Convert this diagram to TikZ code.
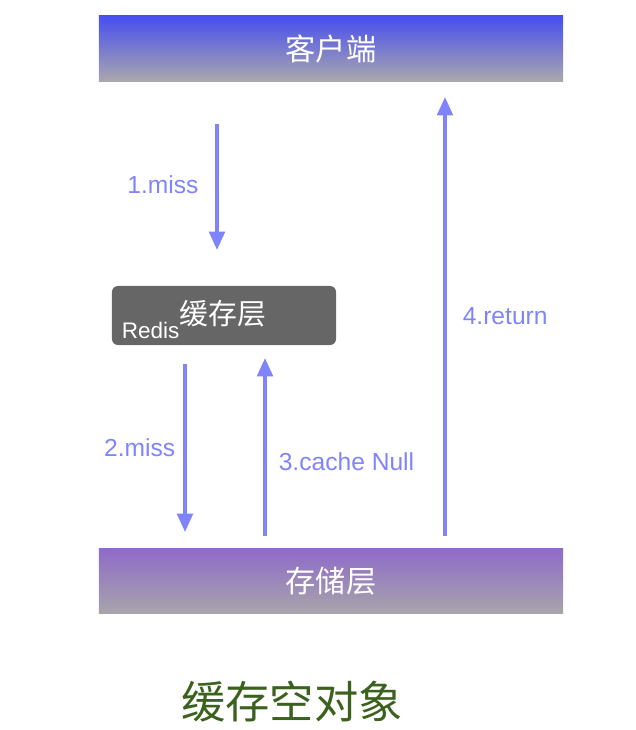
\documentclass[tikz,border=0pt]{standalone}
\usepackage{fontspec}
\setmainfont{Liberation Sans}
\newfontfamily\cjk{Noto Sans CJK SC}
\usepackage{xcolor}
\definecolor{flowblue}{RGB}{128,132,252}
\definecolor{titlegreen}{RGB}{58,98,28}
\definecolor{cachegray}{RGB}{102,102,102}
\tikzstyle{line} = [draw, flowblue, line width=2.5pt, -{Triangle[length=13pt,width=11pt]}]
\tikzstyle{layer} = [minimum width=11.6cm, minimum height=1.64cm, inner sep=0pt, text=white, font=\cjk\fontsize{21.5}{21.5}\selectfont]
\tikzstyle{lbl} = [text=flowblue, inner sep=0pt, font=\fontsize{17.5}{17.5}\selectfont]
\usetikzlibrary{shapes,arrows.meta,positioning}

\begin{document}
\begin{tikzpicture}[x=0.025cm, y=-0.025cm]
    \useasboundingbox (0,0) rectangle (636,730);
    % Place nodes
    \node [layer, top color={rgb,255:red,70;green,78;blue,240}, middle color={rgb,255:red,102;green,102;blue,214}, bottom color={rgb,255:red,170;green,167;blue,172}] (client) at (331,48.5) {客户端};
    \node [layer, top color={rgb,255:red,142;green,106;blue,200}, middle color={rgb,255:red,150;green,126;blue,190}, bottom color={rgb,255:red,168;green,165;blue,170}] (storage) at (331,581) {存储层};
    \node [fill=cachegray, rounded corners=0.15cm, minimum width=5.6cm, minimum height=1.475cm] (redis) at (224,315.5) {};
    \node [anchor=west, text=white, inner sep=0pt] (redislabel) at ([xshift=0.25cm, yshift=-0.1cm]redis.west) {\fontsize{16}{16}\selectfont\raisebox{-1.1ex}{Redis}\cjk\fontsize{20.5}{20.5}\selectfont 缓存层};
    \node [text=titlegreen, font=\cjk\fontsize{31.5}{31.5}\selectfont] (title) at (292,702) {缓存空对象};

    % Free ends
    \coordinate (m1a) at (217,124);
    \coordinate (m1b) at (217,250);
    \coordinate (m2a) at (185,364);
    \coordinate (m2b) at (185,532);
    \coordinate (c3a) at (265,536);
    \coordinate (c3b) at (265,358);
    \coordinate (r4a) at (445,536);
    \coordinate (r4b) at (445,97);

    \path [line] (m1a) -- node [lbl, left=0.42cm, pos=0.48] {1.miss} (m1b);
    \path [line] (m2a) -- node [lbl, left=0.2cm] {2.miss} (m2b);
    \path [line] (c3a) -- node [lbl, right=0.3cm, pos=0.42] {3.cache Null} (c3b);
    \path [line] (r4a) -- node [lbl, right=0.4cm] {4.return} (r4b);

\end{tikzpicture}
\end{document}
